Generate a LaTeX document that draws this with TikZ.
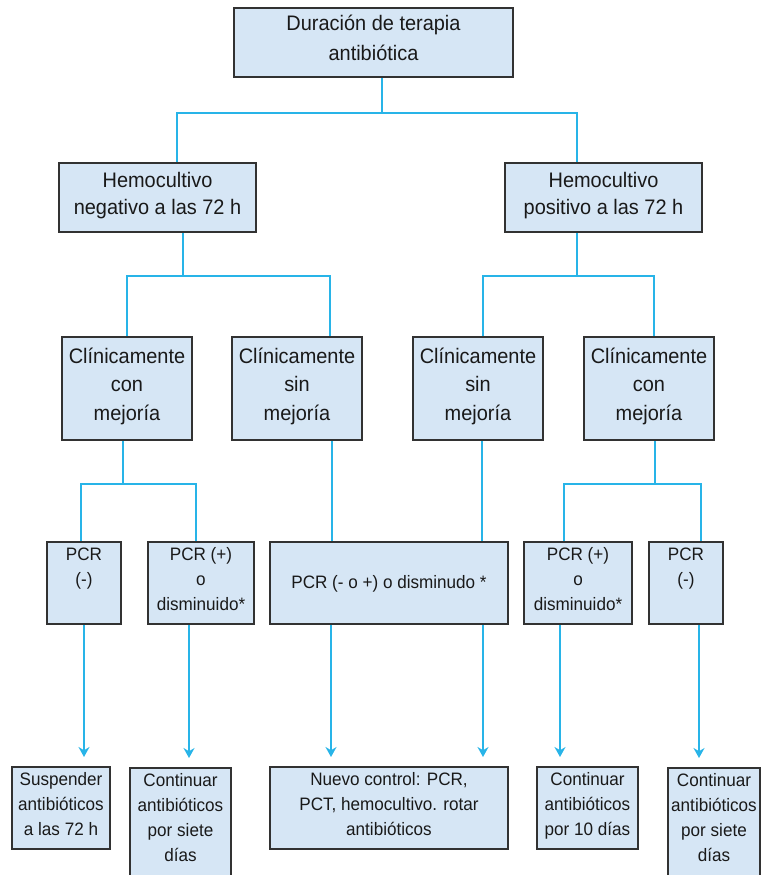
\documentclass[tikz,border=0pt]{standalone}
\usepackage{fontspec}
\setmainfont{Liberation Sans}[FakeStretch=0.95]
\usetikzlibrary{arrows.meta}
\definecolor{boxfill}{RGB}{214,230,245}
\definecolor{boxline}{RGB}{50,50,50}
\definecolor{linkblue}{RGB}{40,180,232}
\begin{document}
\begin{tikzpicture}[x=1pt,y=-1pt,
  box/.style={draw=boxline,line width=2pt,fill=boxfill,inner sep=0pt,align=center,
    text=black!90,font=\fontsize{21}{28.5}\selectfont,
    execute at begin node=\strut,execute at end node=\strut},
  smallbox/.style={box,font=\fontsize{18}{25}\selectfont},
  link/.style={linkblue,line width=2.2pt},
  arrow/.style={link,-{Stealth[length=10pt,width=11pt]},shorten >=9pt}]
\useasboundingbox (0,0) rectangle (763,875);
\clip (0,0) rectangle (763,875);
% nivel 1 y 2
\node[box,minimum width=279,minimum height=69,font=\fontsize{21}{30}\selectfont] (top) at (373.5,42.5) {Duración de terapia\\antibiótica};
\node[box,minimum width=197,minimum height=69,font=\fontsize{21}{27}\selectfont] (neg) at (157.5,197.5) {Hemocultivo\\negativo a las 72 h};
\node[box,minimum width=197,minimum height=69,font=\fontsize{21}{27}\selectfont] (pos) at (603.5,197.5) {Hemocultivo\\positivo a las 72 h};
% nivel 3
\node[box,minimum width=130,minimum height=103] (cm1) at (127,388.5) {Clínicamente\\con\\mejoría};
\node[box,minimum width=130,minimum height=103] (sm1) at (297,388.5) {Clínicamente\\sin\\mejoría};
\node[box,minimum width=130,minimum height=103] (sm2) at (478,388.5) {Clínicamente\\sin\\mejoría};
\node[box,minimum width=130,minimum height=103] (cm2) at (649,388.5) {Clínicamente\\con\\mejoría};
% nivel 4
\node[smallbox,minimum width=74,minimum height=82] (pn1) at (84,583) {PCR\\(-)\\\mbox{}};
\node[smallbox,minimum width=106,minimum height=82] (pp1) at (201,583) {PCR (+)\\o\\disminuido*};
\node[smallbox,minimum width=238,minimum height=82] (pmid) at (389,583) {PCR (- o +) o disminudo *};
\node[smallbox,minimum width=108,minimum height=82] (pp2) at (578,583) {PCR (+)\\o\\disminuido*};
\node[smallbox,minimum width=74,minimum height=82] (pn2) at (686,583) {PCR\\(-)\\\mbox{}};
% nivel 5
\node[smallbox,minimum width=98,minimum height=82] (r1) at (61,808) {Suspender\\antibióticos\\a las 72 h};
\node[smallbox,minimum width=101,inner ysep=5.5pt,anchor=north] (r2) at (180.5,767) {Continuar\\antibióticos\\por siete\\días\\\mbox{}};
\node[smallbox,minimum width=238,minimum height=82] (rc) at (389,808) {Nuevo control: PCR,\\PCT, hemocultivo. rotar\\antibióticos};
\node[smallbox,minimum width=101,minimum height=82] (r4) at (587.5,808) {Continuar\\antibióticos\\por 10 días};
\node[smallbox,minimum width=92,inner ysep=5.5pt,anchor=north] (r5) at (714,767) {Continuar\\antibióticos\\por siete\\días\\\mbox{}};
% conectores
\draw[link] ([xshift=8.5pt]top.south) -- ++(0,35) coordinate (b1);
\draw[link] ([xshift=19.5pt]neg.north) |- (b1) -| ([xshift=-26.5pt]pos.north);
\draw[link] ([xshift=25.5pt]neg.south) -- ++(0,43) coordinate (b2);
\draw[link] (cm1.north) |- (b2) -| ([xshift=33pt]sm1.north);
\draw[link] ([xshift=-26.5pt]pos.south) -- ++(0,43) coordinate (b3);
\draw[link] ([xshift=5pt]sm2.north) |- (b3) -| ([xshift=5pt]cm2.north);
\draw[link] ([xshift=-4pt]cm1.south) -- ++(0,43) coordinate (b4);
\draw[link] ([xshift=-3pt]pn1.north) |- (b4) -| ([xshift=-5pt]pp1.north);
\draw[link] ([xshift=6pt]cm2.south) -- ++(0,43) coordinate (b5);
\draw[link] ([xshift=-14pt]pp2.north) |- (b5) -| ([xshift=15pt]pn2.north);
\draw[link] ([xshift=35pt]sm1.south) -- ([xshift=35pt]sm1.south |- pmid.north);
\draw[link] ([xshift=4pt]sm2.south) -- ([xshift=4pt]sm2.south |- pmid.north);
% flechas
\draw[arrow] (pn1.south) -- (pn1.south |- r1.north);
\draw[arrow] ([xshift=-12pt]pp1.south) -- ([xshift=-12pt]pp1.south |- r2.north);
\draw[arrow] ([xshift=-58pt]pmid.south) -- ([xshift=-58pt]pmid.south |- rc.north);
\draw[arrow] ([xshift=94pt]pmid.south) -- ([xshift=94pt]pmid.south |- rc.north);
\draw[arrow] ([xshift=-18pt]pp2.south) -- ([xshift=-18pt]pp2.south |- r4.north);
\draw[arrow] ([xshift=13pt]pn2.south) -- ([xshift=13pt]pn2.south |- r5.north);
\end{tikzpicture}
\end{document}
